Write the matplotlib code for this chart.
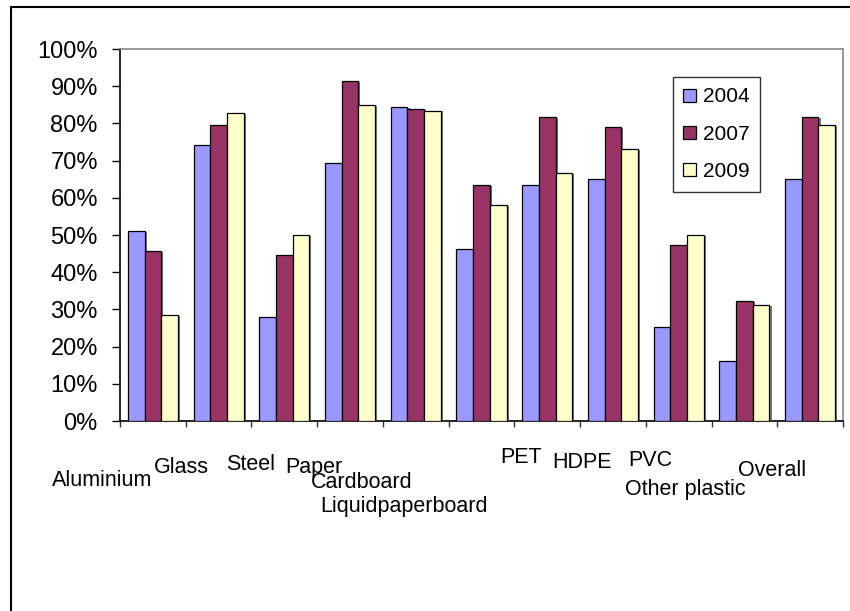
import matplotlib
matplotlib.use("Agg")
import matplotlib.pyplot as plt
from matplotlib.patches import Patch, Rectangle
import matplotlib.patheffects as pe
import numpy as np

plt.rcParams['font.family'] = ['Liberation Sans', 'DejaVu Sans']

categories = ["Aluminium", "Glass", "Steel", "Paper", "Cardboard", "Liquidpaperboard",
              "PET", "HDPE", "PVC", "Other plastic", "Overall"]
series_names = ["2004", "2007", "2009"]
v2004 = [51.0, 74.2, 27.9, 69.3, 84.4, 46.2, 63.4, 65.0, 25.2, 16.1, 65.0]
v2007 = [45.7, 79.6, 44.6, 91.4, 83.9, 63.4, 81.7, 79.0, 47.3, 32.2, 81.7]
v2009 = [28.4, 82.8, 50.0, 84.9, 83.4, 58.0, 66.6, 73.1, 50.0, 31.1, 79.6]
yticks = [0, 10, 20, 30, 40, 50, 60, 70, 80, 90, 100]
ytick_labels = [f"{t}%" for t in yticks]

colors = ["#9999FF", "#993366", "#FFFFCC"]

# layout of the staggered category labels: (x offset from category centre, pixels below axis)
label_dx = [-0.774, -0.572, -0.507, -0.549, -0.818, -1.179, -0.399, -0.464, -0.437, -0.897, -0.585]
label_dy_px = [65, 51.7, 49, 51.7, 67.3, 91, 41.7, 46.7, 45, 74, 55]

W, H = 850, 611
fig = plt.figure(figsize=(W / 100, H / 100), dpi=100)
ax = fig.add_axes([120 / W, 1 - 421 / H, (843 - 120) / W, (421 - 49) / H])

x = np.arange(len(categories))
bw = 0.254
shadow = [pe.SimplePatchShadow(offset=(1.5, -0.5), shadow_rgbFace='#555555', alpha=0.8), pe.Normal()]
for i, (vals, c) in enumerate(zip([v2004, v2007, v2009], colors)):
    bars = ax.bar(x + (i - 1) * bw, vals, width=bw, color=c, edgecolor='black', linewidth=0.9, zorder=3)
    for b in bars:
        b.set_path_effects(shadow)

ax.set_xlim(-0.5, len(categories) - 0.5)
ax.set_ylim(0, 100)
ax.set_yticks(yticks)
ax.set_yticklabels(ytick_labels, fontsize=17)
ax.tick_params(axis='y', direction='out', length=6, width=1, pad=10, colors='black')
ax.set_xticks(np.arange(len(categories) + 1) - 0.5)
ax.set_xticklabels([])
ax.tick_params(axis='x', direction='out', length=4.5, width=1, color='#333333')

for s in ['top', 'right']:
    ax.spines[s].set_color('#888888')
    ax.spines[s].set_linewidth(1.2)
for s in ['left', 'bottom']:
    ax.spines[s].set_color('black')
    ax.spines[s].set_linewidth(1.2)

for i, name in enumerate(categories):
    ax.annotate(name, xy=(i + label_dx[i], 0), xycoords=('data', 'axes fraction'),
                xytext=(0, -label_dy_px[i] * 0.72), textcoords='offset points',
                ha='center', va='baseline', fontsize=15.5, annotation_clip=False)

handles = [Patch(facecolor=c, edgecolor='black', linewidth=0.9) for c in colors]
leg = fig.legend(handles, series_names, loc='upper left',
                 bbox_to_anchor=(673 / W, 1 - 77 / H), bbox_transform=fig.transFigure,
                 fontsize=15, frameon=True, fancybox=False, borderaxespad=0,
                 handlelength=0.58, handleheight=0.58, handletextpad=0.38,
                 labelspacing=0.88, borderpad=0.5)
leg.get_frame().set_edgecolor('black')
leg.get_frame().set_linewidth(1.0)

fig.add_artist(Rectangle((11 / W, -0.2), 2, 1.2 - 7 / H, transform=fig.transFigure,
                         fill=False, edgecolor='black', linewidth=1.5))

fig.savefig("out.png", dpi=100, facecolor='white')
